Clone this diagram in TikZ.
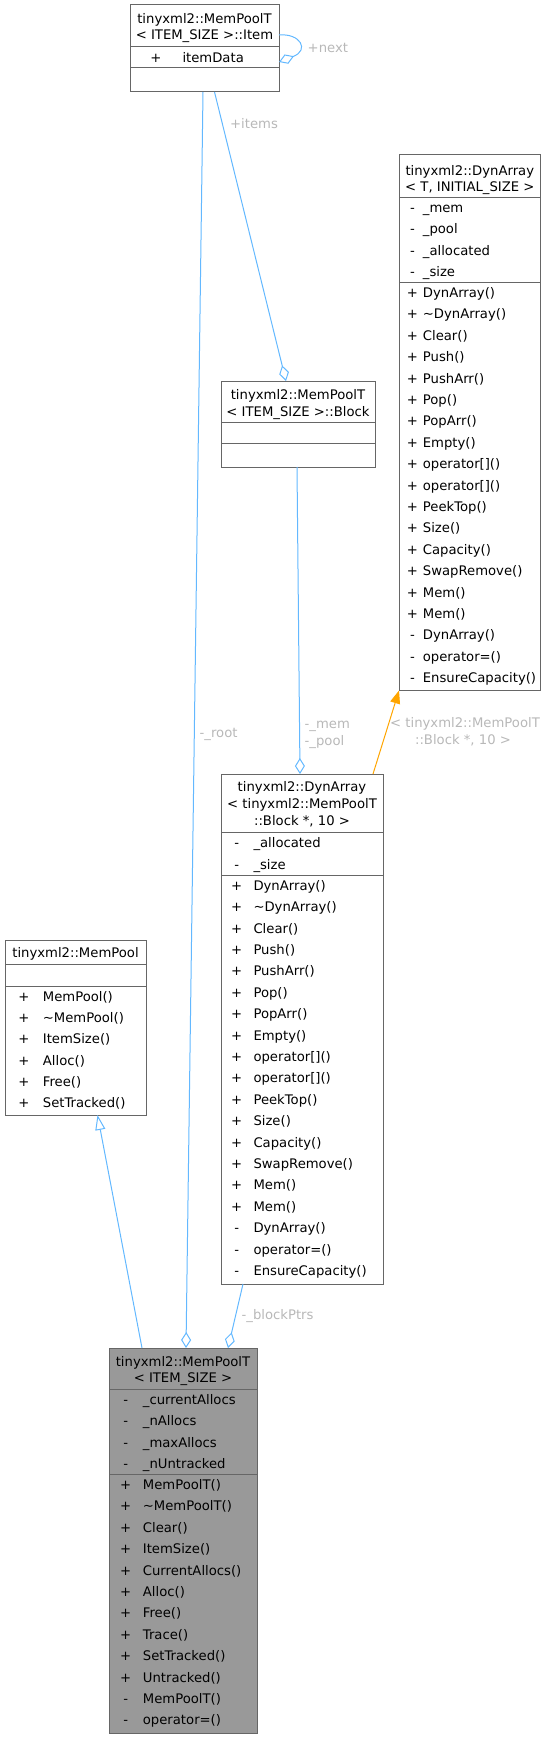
\documentclass[tikz,border=0pt]{standalone}
\usepackage{fontspec}
\setmainfont{DejaVu Sans}
\usetikzlibrary{arrows.meta}

\definecolor{edgeblue}{HTML}{63B8FF}
\definecolor{tmplorange}{HTML}{FFA500}
\definecolor{boxgray}{HTML}{666666}
\definecolor{labelgray}{HTML}{B8B8B8}
\definecolor{focusfill}{HTML}{999999}

% member functions shared by both DynArray boxes
\newcommand\dynArrayOps{+/DynArray(), +/\textasciitilde DynArray(), +/Clear(), +/Push(),
  +/PushArr(), +/Pop(), +/PopArr(), +/Empty(), +/operator[](), +/operator[](),
  +/PeekTop(), +/Size(), +/Capacity(), +/SwapRemove(), +/Mem(), +/Mem(),
  -/DynArray(), -/operator=(), -/EnsureCapacity()}

\begin{document}
\begin{tikzpicture}[x=1pt, y=-1pt,
    every node/.style={font=\fontsize{13.2}{16.6}\selectfont, inner sep=0pt},
    cls/.style={draw=boxgray, line width=1pt, fill=white, anchor=north west,
                inner sep=0pt, outer sep=0pt},
    rule/.style={draw=boxgray, line width=1pt},
    txt/.style={anchor=base},
    mem/.style={anchor=base west},
    lbl/.style={text=labelgray, anchor=base west},
    link/.style={draw=edgeblue, line width=1pt},
    aggr/.style={link, -{Diamond[open, length=16pt, width=10pt]}},
    inherit/.style={link, -{Triangle[open, length=15pt, width=10pt]}},
    tmpl/.style={draw=tmplorange, line width=1pt, -{Triangle[length=13pt, width=10pt]}},
]
\useasboundingbox (0,0) rectangle (546,1739);

% class boxes
\node[cls, minimum width=149pt, minimum height=87pt]    (item)  at (130,5) {};
\node[cls, minimum width=154pt, minimum height=86pt]    (block) at (221,381) {};
\node[cls, minimum width=141.5pt, minimum height=535.5pt] (dynT) at (399,155) {};
\node[cls, minimum width=162pt, minimum height=510pt]   (dynB)  at (221,774) {};
\node[cls, minimum width=141pt, minimum height=175pt]   (pool)  at (5,940) {};
\node[cls, fill=focusfill, minimum width=148pt, minimum height=385pt] (poolT) at (109,1348) {};

\draw[rule] (130,47) -- (279,47) (130,68) -- (279,68);
\draw[rule] (221,422) -- (375,422) (221,443) -- (375,443);
\draw[rule] (399,197.5) -- (540.5,197.5) (399,282.5) -- (540.5,282.5);
\draw[rule] (221,832.3) -- (383,832.3) (221,875) -- (383,875);
\draw[rule] (5,964) -- (146,964) (5,986) -- (146,986);
\draw[rule] (109,1389) -- (257,1389) (109,1474.3) -- (257,1474.3);

% titles
\node[txt] (item-t1) at (204.5,23.5) {tinyxml2::MemPoolT};
\node[txt] (item-t2) at (204.5,40) {< ITEM\_SIZE >::Item};
\node[txt] (block-t1) at (298,399.5) {tinyxml2::MemPoolT};
\node[txt] (block-t2) at (298,416) {< ITEM\_SIZE >::Block};
\node[txt] (dynT-t1) at (469.8,175.5) {tinyxml2::DynArray};
\node[txt] (dynT-t2) at (469.8,192) {< T, INITIAL\_SIZE >};
\node[txt] (dynB-t1) at (302,791.8) {tinyxml2::DynArray};
\node[txt] (dynB-t2) at (302,808.5) {< tinyxml2::MemPoolT};
\node[txt] (dynB-t3) at (302,825.2) {::Block *, 10 >};
\node[txt] (pool-t1) at (75.5,957.8) {tinyxml2::MemPool};
\node[txt] (poolT-t1) at (183,1366.2) {tinyxml2::MemPoolT};
\node[txt] (poolT-t2) at (183,1382.8) {< ITEM\_SIZE >};

% members
\node[txt] (item-s0) at (156,62.2) {+};
\node[mem] (item-m0) at (182.3,62.2) {itemData};

\foreach \sg/\nm [count=\i from 0] in {-/\_mem, -/\_pool, -/\_allocated, -/\_size} {
  \node[txt] (dynT-as\i) at (412.5, 212.5+21.4*\i) {\sg};
  \node[mem] (dynT-a\i) at (422.7, 212.5+21.4*\i) {\nm};
}
\foreach \sg/\nm [count=\i from 0] in \dynArrayOps {
  \node[txt] (dynT-ms\i) at (412.5, 297.5+21.4*\i) {\sg};
  \node[mem] (dynT-m\i) at (422.7, 297.5+21.4*\i) {\nm};
}

\foreach \sg/\nm [count=\i from 0] in {-/\_allocated, -/\_size} {
  \node[txt] (dynB-as\i) at (236.7, 847.8+21.4*\i) {\sg};
  \node[mem] (dynB-a\i) at (253.3, 847.8+21.4*\i) {\nm};
}
\foreach \sg/\nm [count=\i from 0] in \dynArrayOps {
  \node[txt] (dynB-ms\i) at (236.7, 890.2+21.4*\i) {\sg};
  \node[mem] (dynB-m\i) at (253.3, 890.2+21.4*\i) {\nm};
}

\foreach \sg/\nm [count=\i from 0] in {+/MemPool(), +/\textasciitilde MemPool(),
    +/ItemSize(), +/Alloc(), +/Free(), +/SetTracked()} {
  \node[txt] (pool-ms\i) at (24, 1001.2+21.3*\i) {\sg};
  \node[mem] (pool-m\i) at (42.7, 1001.2+21.3*\i) {\nm};
}

\foreach \sg/\nm [count=\i from 0] in {-/\_currentAllocs, -/\_nAllocs, -/\_maxAllocs,
    -/\_nUntracked} {
  \node[txt] (poolT-as\i) at (125.7, 1404.5+21.4*\i) {\sg};
  \node[mem] (poolT-a\i) at (142.7, 1404.5+21.4*\i) {\nm};
}
\foreach \sg/\nm [count=\i from 0] in {+/MemPoolT(), +/\textasciitilde MemPoolT(), +/Clear(),
    +/ItemSize(), +/CurrentAllocs(), +/Alloc(), +/Free(), +/Trace(), +/SetTracked(),
    +/Untracked(), -/MemPoolT(), -/operator=()} {
  \node[txt] (poolT-ms\i) at (125.7, 1489.5+21.4*\i) {\sg};
  \node[mem] (poolT-m\i) at (142.7, 1489.5+21.4*\i) {\nm};
}

% relations
\draw[inherit] ([xshift=33pt]poolT.north west) -- ([xshift=22pt]pool.south);
\draw[aggr] ([xshift=-1.5pt]item.south) -- ([xshift=3pt]poolT.north);
\draw[aggr] ([xshift=10pt]item.south) -- ([xshift=-12pt]block.north);
\draw[aggr] ([xshift=-1pt]block.south) -- ([xshift=-2pt]dynB.north);
\draw[tmpl] ([xshift=-10pt]dynB.north east) -- (dynT.south west);
\draw[aggr] ([xshift=22pt]dynB.south west) -- ([xshift=-29pt]poolT.north east);
\draw[aggr] ([yshift=-30pt]item.north east) .. controls +(21,-2) and +(31,-12)
  .. ([yshift=-57pt]item.north east);

% edge labels
\node[lbl] (next) at (307.5,52.5) {+next};
\node[lbl, anchor=base] (items) at (254,128.5) {+items};
\node[lbl] (root) at (199.5,737) {-\_root};
\node[lbl] (memlbl) at (304.5,728.5) {-\_mem};
\node[lbl] (poollbl) at (304.5,745.5) {-\_pool};
\node[lbl, anchor=base] (tmpl1) at (465,727.5) {< tinyxml2::MemPoolT};
\node[lbl, anchor=base] (tmpl2) at (463,744.5) {::Block *, 10 >};
\node[lbl] (blockptrs) at (241.5,1319.5) {-\_blockPtrs};

\end{tikzpicture}
\end{document}
